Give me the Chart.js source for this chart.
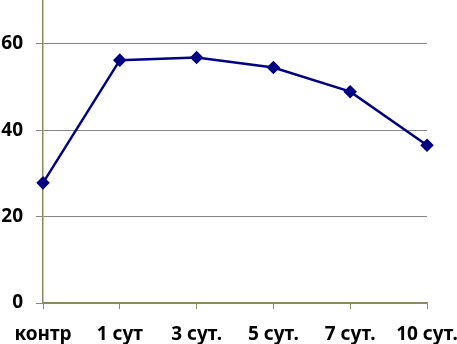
<!DOCTYPE html>
<html>
<head>
<meta charset="utf-8">
<script src="https://cdn.jsdelivr.net/npm/chart.js@4/dist/chart.umd.min.js"></script>
<style>
  html, body { margin: 0; padding: 0; background: #fff; overflow: hidden; }
  #wrap { width: 457px; height: 351px; margin-top: -7px; }
</style>
</head>
<body>
<div id="wrap"><canvas id="myChart"></canvas></div>
<script>
const labels = ['контр', '1 сут', '3 сут.', '5 сут.', '7 сут.', '10 сут.'];
const values = [27.8, 56.2, 56.8, 54.5, 48.9, 36.5];
const yTicks = [0, 20, 40, 60];

const ctx = document.getElementById('myChart');
const tickFont = { family: 'Noto Sans', size: 19, weight: 'bold' };

new Chart(ctx, {
  type: 'line',
  data: {
    labels: labels,
    datasets: [{
      data: values,
      borderColor: '#000080',
      backgroundColor: '#000080',
      borderWidth: 2.5,
      pointStyle: 'rectRot',
      pointRadius: 5,
      pointHoverRadius: 5,
      tension: 0
    }]
  },
  options: {
    responsive: true,
    maintainAspectRatio: false,
    animation: false,
    layout: { padding: { left: 0, right: 30, top: 0, bottom: 0 } },
    plugins: { legend: { display: false }, tooltip: { enabled: false } },
    scales: {
      x: {
        type: 'category',
        offset: false,
        border: { color: '#8a8a5c', width: 1.5 },
        grid: { drawOnChartArea: false, tickLength: 6, color: '#8a8a5c' },
        ticks: { color: '#000', font: tickFont, padding: 14, maxRotation: 0, autoSkip: false },
        afterFit: s => { s.height = 41; s.paddingLeft = 0; s.paddingRight = 0; }
      },
      y: {
        min: 0,
        max: 70,
        border: { color: '#8a8a5c', width: 1.5 },
        grid: { color: '#868686', tickLength: 7 },
        ticks: {
          stepSize: 20,
          includeBounds: false,
          color: '#000',
          font: tickFont,
          padding: 13,
          callback: v => yTicks.includes(v) ? v : ''
        },
        afterFit: s => { s.width = 43; s.paddingTop = 0; s.paddingBottom = 0; }
      }
    }
  }
});
</script>
</body>
</html>
